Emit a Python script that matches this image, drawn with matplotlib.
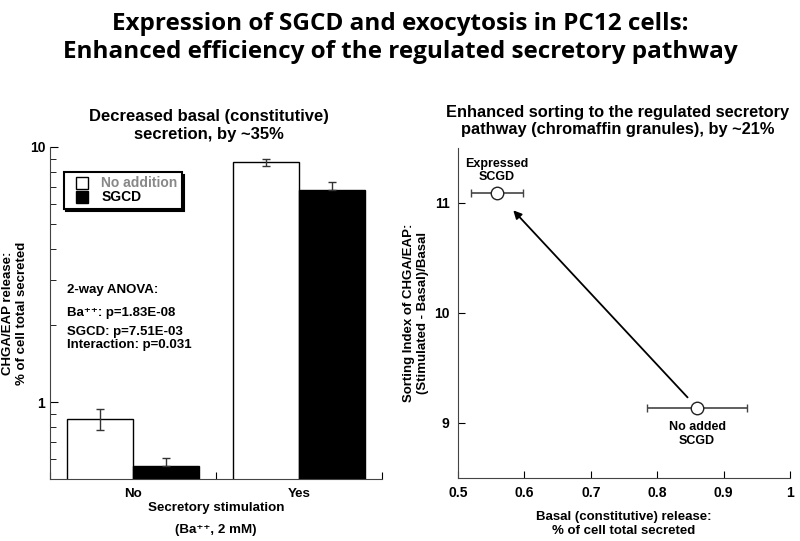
import numpy as np
import matplotlib
matplotlib.use("Agg")
import matplotlib.pyplot as plt
from matplotlib.lines import Line2D

plt.rcParams['font.family'] = ['Liberation Sans', 'DejaVu Sans']
plt.rcParams['font.weight'] = 'bold'

# left panel: release (% of cell total secreted), log scale
stim_labels = ["No", "Yes"]
no_addition = [0.86, 8.7]
no_addition_err = [0.08, 0.3]
sgcd = [0.56, 6.8]
sgcd_err = [0.045, 0.5]

# right panel: sorting index vs basal release
point_names = ["Expressed\nSCGD", "No added\nSCGD"]
basal = [0.559, 0.860]
basal_err = [0.039, 0.075]
sorting = [11.09, 9.14]

fig = plt.figure(figsize=(8, 5.41), dpi=100)
fig.text(0.5, 0.978, "Expression of SGCD and exocytosis in PC12 cells:\n"
         "Enhanced efficiency of the regulated secretory pathway",
         ha='center', va='top', fontsize=17.5, fontweight='bold',
         family='Open Sans', linespacing=1.25)

# ---- left: bar chart
ax1 = fig.add_axes([0.0625, 0.1146, 0.415, 0.6137])
centers = np.array([0.5, 1.5])
w = 0.4
ax1.bar(centers - w / 2, no_addition, w, color='white', edgecolor='black', linewidth=1)
ax1.bar(centers + w / 2, sgcd, w, color='black', edgecolor='black', linewidth=1)
ax1.errorbar(centers - w / 2, no_addition, yerr=no_addition_err, fmt='none',
             ecolor='#333333', elinewidth=1, capsize=3)
ax1.errorbar(centers + w / 2, sgcd, yerr=[[0, 0], sgcd_err], fmt='none',
             ecolor='#333333', elinewidth=1, capsize=3)
ax1.set_yscale('log')
ax1.set_ylim(0.5, 10)
ax1.set_xlim(0, 2)
ax1.set_yticks([1, 10])
ax1.set_yticklabels(["1", "10"])
ax1.yaxis.set_minor_formatter(plt.NullFormatter())
ax1.set_xticks([0, 1, 2])
ax1.set_xticklabels([])
xt = ax1.get_xaxis_transform()
for c, lab in zip(centers, stim_labels):
    ax1.text(c, -0.045, lab, transform=xt, ha='center', va='center', fontsize=9.6)
ax1.text(1.0, -0.086, "Secretory stimulation", transform=xt, ha='center',
         va='center', fontsize=9.6)
ax1.text(1.0, -0.154, "(Ba\u207a\u207a, 2 mM)", transform=xt, ha='center',
         va='center', fontsize=9.6)
ax1.tick_params(axis='both', which='both', direction='in', labelsize=10)
ax1.tick_params(axis='y', which='major', length=6)
ax1.tick_params(axis='y', which='minor', length=4)
ax1.tick_params(axis='x', length=5)
for s in ['top', 'right']:
    ax1.spines[s].set_visible(False)
for s in ['left', 'bottom']:
    ax1.spines[s].set_color('#444444')
ax1.set_ylabel("CHGA/EAP release:\n% of cell total secreted", fontsize=9.5,
               fontweight='bold', labelpad=1)
ax1.set_title("Decreased basal (constitutive)\nsecretion, by ~35%", fontsize=12,
              fontweight='bold', pad=6, x=0.48)
handles = [Line2D([], [], marker='s', ms=9, mfc='white', mec='black', ls='none'),
           Line2D([], [], marker='s', ms=9, mfc='black', mec='black', ls='none')]
leg = ax1.legend(handles, ["No addition", "SGCD"], loc='upper left',
                 bbox_to_anchor=(0.02, 0.945), fancybox=False,
                 shadow={'color': 'black', 'alpha': 1},
                 framealpha=1, edgecolor='black', fontsize=10, handlelength=2.0,
                 handletextpad=0.4, borderpad=0.3, labelspacing=0.0)
leg.get_frame().set_linewidth(1.5)
leg.get_texts()[0].set_color('#888888')
anova = ["2-way ANOVA:", "Ba\u207a\u207a: p=1.83E-08", "SGCD: p=7.51E-03", "Interaction: p=0.031"]
anova_y = [0.569, 0.5, 0.443, 0.404]
for txt, yy in zip(anova, anova_y):
    ax1.text(0.05, yy, txt, transform=ax1.transAxes, fontsize=9.5, va='center')

# ---- right: sorting index
ax2 = fig.add_axes([0.5725, 0.1165, 0.415, 0.61])
ax2.errorbar(basal, sorting, xerr=basal_err, fmt='o', color='#444444', mfc='white',
             mec='#222222', ms=9, elinewidth=1.2, capsize=3, zorder=3)
ax2.annotate("", xy=(basal[0], sorting[0]), xytext=(basal[1], sorting[1]),
             arrowprops=dict(arrowstyle='-|>', color='black', lw=1.3,
                             shrinkA=10, shrinkB=17, mutation_scale=12))
ax2.annotate(point_names[0], (basal[0], sorting[0]), xytext=(0, 7),
             textcoords='offset points', ha='center', va='bottom', fontsize=9,
             fontweight='bold')
ax2.annotate(point_names[1], (basal[1], sorting[1]), xytext=(0, -10),
             textcoords='offset points', ha='center', va='top', fontsize=9,
             fontweight='bold')
ax2.set_xlim(0.5, 1)
ax2.set_ylim(8.5, 11.5)
ax2.set_xticks([0.5, 0.6, 0.7, 0.8, 0.9, 1.0])
ax2.set_xticklabels(["0.5", "0.6", "0.7", "0.8", "0.9", "1"])
ax2.set_yticks([9, 10, 11])
ax2.tick_params(axis='both', direction='in', length=5, labelsize=10, pad=6)
for s in ['top', 'right']:
    ax2.spines[s].set_visible(False)
for s in ['left', 'bottom']:
    ax2.spines[s].set_color('#444444')
ax2.set_xlabel("Basal (constitutive) release:\n% of cell total secreted", fontsize=9.5,
               fontweight='bold', labelpad=8)
ax2.set_ylabel("Sorting Index of CHGA/EAP:\n(Stimulated - Basal)/Basal", fontsize=9.5,
               fontweight='bold', labelpad=4)
ax2.set_title("Enhanced sorting to the regulated secretory\npathway (chromaffin granules), by ~21%",
              fontsize=11.8, fontweight='bold', pad=10, x=0.48)

fig.savefig("out.png", dpi=100)
